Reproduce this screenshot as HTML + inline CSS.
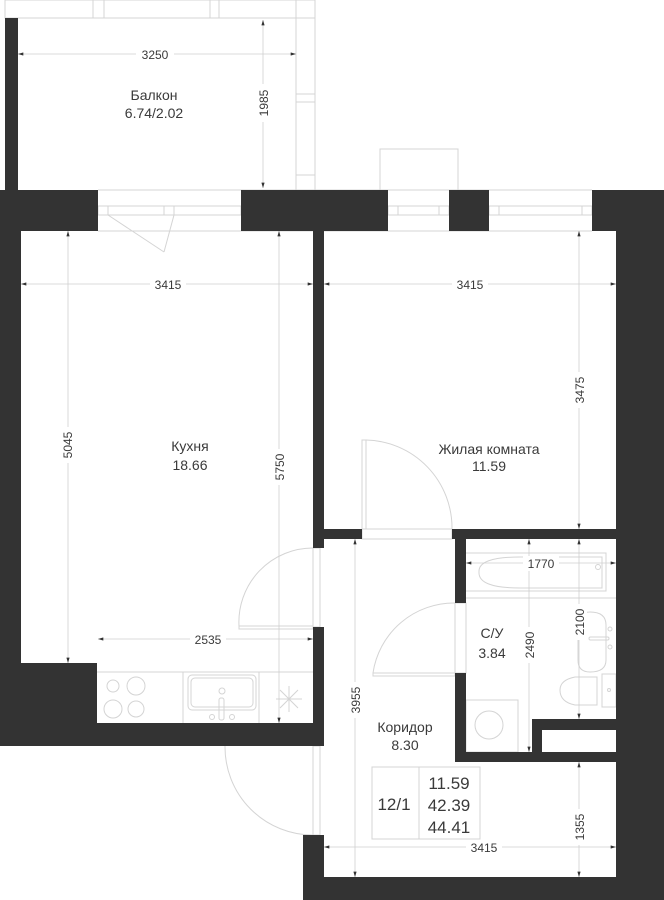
<!DOCTYPE html>
<html><head><meta charset="utf-8"><style>
html,body{margin:0;padding:0;background:#fff;}
svg{display:block;}
text{font-family:"Liberation Sans",sans-serif;fill:#3a3a3a;}
</style></head><body>
<svg width="664" height="900" viewBox="0 0 664 900" xmlns="http://www.w3.org/2000/svg">
<defs>
<marker id="a" viewBox="0 0 10 6" refX="10" refY="3" markerWidth="8" markerHeight="4" orient="auto-start-reverse"><path d="M0,0L10,3L0,6z" fill="#333"/></marker>
</defs>
<g fill="none" stroke="#d4d4d4" stroke-width="1">
<!-- balcony frame -->
<rect x="5" y="0" width="310" height="18"/>
<line x1="93" y1="0" x2="93" y2="18"/><line x1="104" y1="0" x2="104" y2="18"/>
<line x1="210" y1="0" x2="210" y2="18"/><line x1="219" y1="0" x2="219" y2="18"/>
<line x1="296" y1="0" x2="296" y2="190"/><line x1="315" y1="0" x2="315" y2="190"/>
<line x1="296" y1="94" x2="315" y2="94"/><line x1="296" y1="102" x2="315" y2="102"/><line x1="296" y1="175" x2="315" y2="175"/>
<rect x="380" y="149" width="78" height="41"/>
<!-- windows -->
<rect x="98" y="206" width="143" height="9"/><line x1="108" y1="206" x2="108" y2="215"/><line x1="164" y1="206" x2="164" y2="215"/><line x1="174" y1="206" x2="174" y2="215"/>
<line x1="108" y1="215" x2="164" y2="252"/><line x1="174" y1="215" x2="164" y2="252"/>
<rect x="388" y="206" width="61" height="9"/><line x1="398" y1="206" x2="398" y2="215"/><line x1="439" y1="206" x2="439" y2="215"/>
<rect x="489" y="206" width="103" height="9"/><line x1="499" y1="206" x2="499" y2="215"/><line x1="582" y1="206" x2="582" y2="215"/>
<line x1="98" y1="190" x2="592" y2="190"/><line x1="98" y1="231" x2="592" y2="231"/>
<!-- doors -->
<path d="M239,626 A74,74 0 0 1 313,548"/><rect x="239" y="626" width="74" height="3"/>
<rect x="313" y="548" width="7" height="79"/>
<path d="M366,440 A88,88 0 0 1 452,529"/><rect x="362" y="440" width="4" height="89"/>
<rect x="362" y="529" width="90" height="10"/>
<path d="M373,673 A82,82 0 0 1 455,603"/><rect x="373" y="673" width="82" height="3"/>
<rect x="455" y="603" width="11" height="70"/>
<path d="M225,746 A88,88 0 0 0 313,835"/><rect x="313" y="746" width="7" height="89"/>
<!-- kitchen counter -->
<line x1="97" y1="672" x2="313" y2="672"/>
<line x1="183" y1="672" x2="183" y2="723"/><line x1="259" y1="672" x2="259" y2="723"/>
<rect x="188" y="675" width="68" height="35" rx="4"/><rect x="191" y="678" width="62" height="29" rx="4"/>
<circle cx="113" cy="686" r="6"/><circle cx="136" cy="686" r="9"/><circle cx="113" cy="709" r="9"/><circle cx="136" cy="709" r="8"/>
<circle cx="222" cy="691" r="3"/><rect x="219" y="698" width="5" height="22" rx="2"/><circle cx="212" cy="717" r="2.5"/><circle cx="232" cy="717" r="2.5"/>
<path d="M280,690l18,18M298,690l-18,18M289,686v26M276,699h26"/>
<!-- bathroom -->
<path d="M466,553 L606,553 L606,591 L466,591"/>
<path d="M520,557 Q478,557 479,572 Q478,588 520,588 L602,588 L602,557 Z"/>
<circle cx="598" cy="567" r="2.5"/>
<line x1="466" y1="598" x2="616" y2="598"/>
<path d="M590,612 Q578,612 578,630 L578,660 Q578,672 590,672 Q606,672 606,660 L606,625 Q606,612 590,612Z"/>
<rect x="589" y="637" width="20" height="3" rx="1.5"/><circle cx="610" cy="629" r="2"/><circle cx="610" cy="647" r="2"/>
<path d="M597,677 L575,677 Q560,680 560,690 Q560,702 575,705 L597,705Z"/><rect x="602" y="674" width="14" height="33"/><circle cx="609" cy="690" r="1.5"/>
<rect x="466" y="700" width="52" height="52"/><circle cx="489" cy="725" r="14"/>
<!-- info box -->
<rect x="372" y="767" width="108" height="72"/><line x1="419" y1="767" x2="419" y2="839"/>
</g>
<!-- walls -->
<g fill="#333">
<rect x="5" y="18" width="13" height="172"/>
<rect x="0" y="190" width="98" height="41"/>
<rect x="241" y="190" width="147" height="41"/>
<rect x="449" y="190" width="40" height="41"/>
<rect x="592" y="190" width="72" height="41"/>
<rect x="0" y="231" width="21" height="432"/>
<rect x="0" y="663" width="97" height="60"/>
<rect x="0" y="723" width="324" height="23"/>
<rect x="313" y="231" width="11" height="317"/>
<rect x="313" y="627" width="11" height="119"/>
<rect x="616" y="231" width="48" height="669"/>
<rect x="324" y="529" width="38" height="10"/>
<rect x="452" y="529" width="164" height="10"/>
<rect x="455" y="539" width="11" height="64"/>
<rect x="455" y="673" width="11" height="89"/>
<rect x="455" y="752" width="161" height="10"/>
<rect x="532" y="719" width="84" height="11"/>
<rect x="532" y="719" width="10" height="43"/>
<rect x="303" y="835" width="21" height="65"/>
<rect x="303" y="877" width="361" height="23"/>
</g>
<!-- dimensions -->
<g stroke="#cfcfcf" stroke-width="0.8" fill="none" marker-start="url(#a)" marker-end="url(#a)">
<line x1="18" y1="54" x2="296" y2="54"/>
<line x1="263" y1="20" x2="263" y2="188"/>
<line x1="21" y1="284" x2="313" y2="284"/>
<line x1="324" y1="284" x2="616" y2="284"/>
<line x1="68" y1="231" x2="68" y2="663"/>
<line x1="279" y1="231" x2="279" y2="723"/>
<line x1="579" y1="231" x2="579" y2="529"/>
<line x1="98" y1="639" x2="313" y2="639"/>
<line x1="466" y1="563" x2="616" y2="563"/>
<line x1="579" y1="539" x2="579" y2="719"/>
<line x1="529" y1="539" x2="529" y2="752"/>
<line x1="355" y1="539" x2="355" y2="877"/>
<line x1="579" y1="762" x2="579" y2="877"/>
<line x1="324" y1="847" x2="616" y2="847"/>
</g>
<g font-size="12" text-anchor="middle">
<rect x="136" y="46" width="38" height="16" fill="#fff"/><text x="155" y="59">3250</text>
<rect x="255" y="84" width="16" height="38" fill="#fff"/><text transform="translate(268,103) rotate(-90)">1985</text>
<rect x="150" y="277" width="36" height="15" fill="#fff"/><text x="168" y="289">3415</text>
<rect x="452" y="277" width="36" height="15" fill="#fff"/><text x="470" y="289">3415</text>
<rect x="60" y="427" width="16" height="36" fill="#fff"/><text transform="translate(72,445) rotate(-90)">5045</text>
<rect x="271" y="449" width="16" height="36" fill="#fff"/><text transform="translate(284,467) rotate(-90)">5750</text>
<rect x="571" y="372" width="16" height="36" fill="#fff"/><text transform="translate(584,390) rotate(-90)">3475</text>
<rect x="190" y="632" width="36" height="15" fill="#fff"/><text x="208" y="644">2535</text>
<rect x="523" y="556" width="36" height="15" fill="#fff"/><text x="541" y="568">1770</text>
<rect x="571" y="604" width="16" height="36" fill="#fff"/><text transform="translate(584,622) rotate(-90)">2100</text>
<rect x="521" y="627" width="16" height="36" fill="#fff"/><text transform="translate(534,645) rotate(-90)">2490</text>
<rect x="347" y="682" width="16" height="36" fill="#fff"/><text transform="translate(360,700) rotate(-90)">3955</text>
<rect x="571" y="809" width="16" height="36" fill="#fff"/><text transform="translate(584,827) rotate(-90)">1355</text>
<rect x="466" y="840" width="36" height="15" fill="#fff"/><text x="484" y="852">3415</text>
</g>
<g font-size="14" text-anchor="middle">
<text x="154" y="100">Балкон</text><text x="154" y="118">6.74/2.02</text>
<text x="190" y="451">Кухня</text><text x="190" y="470">18.66</text>
<text x="489" y="454">Жилая комната</text><text x="489" y="471">11.59</text>
<text x="405" y="732">Коридор</text><text x="405" y="750">8.30</text>
<text x="492" y="638">С/У</text><text x="492" y="658">3.84</text>
</g>
<g font-size="17" text-anchor="middle">
<text x="394" y="810">12/1</text>
<text x="449" y="789">11.59</text><text x="449" y="811">42.39</text><text x="449" y="833">44.41</text>
</g>
</svg>
</body></html>
